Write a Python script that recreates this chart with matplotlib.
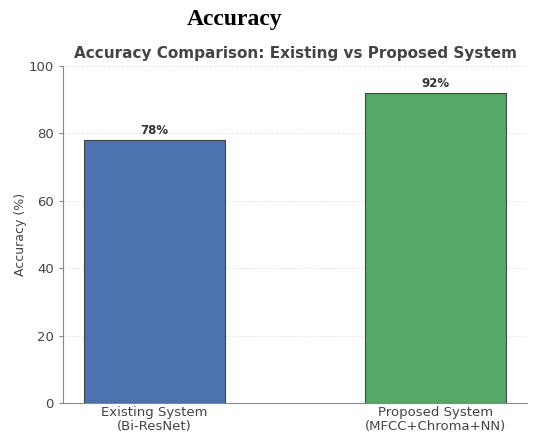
import numpy as np
import matplotlib
matplotlib.use("Agg")
from matplotlib import pyplot as plt

# Data
systems = ['Existing System\n(Bi-ResNet)', 'Proposed System\n(MFCC+Chroma+NN)']
accuracy = [78, 92]
bar_colors = ['#4c72b0', '#55a868']

fig = plt.figure(figsize=(5.38, 4.37), dpi=100)
ax = fig.add_axes([63/538, 1 - 403/437, (527-63)/538, (403-66)/437])

x = np.arange(len(systems))
bars = ax.bar(x, accuracy, width=0.5, color=bar_colors, edgecolor='#444444', linewidth=0.8, zorder=3)

for b, v in zip(bars, accuracy):
    ax.text(b.get_x() + b.get_width()/2, v + 1, f'{v}%', ha='center', va='bottom',
            fontsize=8.5, fontweight='bold', color='#333333')

ax.set_ylim(0, 100)
ax.set_xlim(-0.325, 1.325)
ax.set_xticks(x)
ax.set_xticklabels(systems, fontsize=9.5, color='#444444', linespacing=1.1)
ax.set_yticks([0, 20, 40, 60, 80, 100])
ax.tick_params(axis='y', labelsize=9.5, labelcolor='#444444', color='#888888', length=3)
ax.tick_params(axis='x', length=0, pad=2)
ax.set_ylabel('Accuracy (%)', fontsize=9, color='#444444', labelpad=1)
ax.set_title('Accuracy Comparison: Existing vs Proposed System', fontsize=11,
             fontweight='bold', color='#444444', pad=6)

ax.grid(axis='y', linestyle='--', color='#e6e6e6', linewidth=0.6, zorder=0)
for side in ['top', 'right']:
    ax.spines[side].set_visible(False)
ax.spines['left'].set_color('#888888')
ax.spines['bottom'].set_color('#888888')

fig.text(235/538, 1 - 19/437, 'Accuracy', ha='center', va='center',
         fontsize=17, fontweight='bold', family='Liberation Serif')

fig.savefig('out.png', dpi=100)
